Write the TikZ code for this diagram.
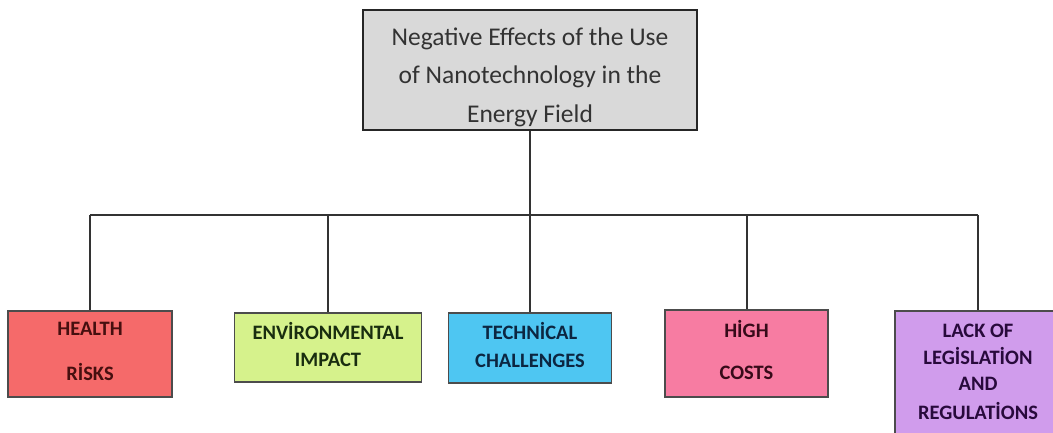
\documentclass[tikz,border=0pt]{standalone}
\usepackage{fontspec}
\setmainfont{Carlito}
\newcommand{\boxtext}[1]{\begin{tabular}{@{}c@{}}#1\end{tabular}}
\begin{document}
\begin{tikzpicture}[x=1pt,y=-1pt,
  conn/.style={draw=black!80, line width=2pt},
  leaf/.style={draw=black!70, line width=1.5pt, font=\fontsize{20.5}{21}\selectfont\bfseries, inner sep=0pt, anchor=center},
]
\useasboundingbox (0,0) rectangle (1053,433);
\clip (0,0) rectangle (1053,433);
\fill[white] (0,0) rectangle (1053,433);
\node[draw=black!85, line width=2.2pt, fill=black!15, minimum width=334pt, minimum height=120pt, inner sep=0pt,
  font=\fontsize{25.5}{38.5}\selectfont, text=black!80] (top) at (530,70)
  {\raisebox{-12.4pt}[0pt][0pt]{\boxtext{Negative Effects of the Use\\of Nanotechnology in the\\Energy Field}}};
\coordinate (bus) at (530,215);
\node[leaf, fill={rgb,255:red,245;green,106;blue,106}, text={rgb,255:red,70;green,15;blue,15}, minimum width=164pt, minimum height=86pt] (health) at (90,354)
  {\boxtext{HEALTH\\[21pt]RİSKS}};
\node[leaf, fill={rgb,255:red,214;green,242;blue,140}, text={rgb,255:red,25;green,45;blue,15}, minimum width=187pt, minimum height=69pt] (env) at (328,347.5)
  {\boxtext{ENVİRONMENTAL\\[6pt]IMPACT}};
\node[leaf, fill={rgb,255:red,78;green,198;blue,242}, text={rgb,255:red,12;green,38;blue,65}, minimum width=163pt, minimum height=70pt] (tech) at (530,348)
  {\boxtext{TECHNİCAL\\[7pt]CHALLENGES}};
\node[leaf, fill={rgb,255:red,247;green,124;blue,162}, text={rgb,255:red,55;green,10;blue,25}, minimum width=163pt, minimum height=87pt] (high) at (746.5,353.5)
  {\boxtext{HİGH\\[21pt]COSTS}};
\node[leaf, fill={rgb,255:red,208;green,156;blue,236}, text={rgb,255:red,40;green,10;blue,60}, minimum width=166pt, minimum height=126pt] (lack) at (978,374)
  {\boxtext{LACK OF\\[4pt]LEGİSLATİON\\[5pt]AND\\[5pt]REGULATİONS}};
\draw[conn] (top.south) -- (bus);
\draw[conn] (health.north |- bus) -- (lack.north |- bus);
\draw[conn] (health.north |- bus) -- (health.north);
\draw[conn] (env.north |- bus) -- (env.north);
\draw[conn] (tech.north |- bus) -- (tech.north);
\draw[conn] (high.north |- bus) -- (high.north);
\draw[conn] (lack.north |- bus) -- (lack.north);
\end{tikzpicture}
\end{document}
